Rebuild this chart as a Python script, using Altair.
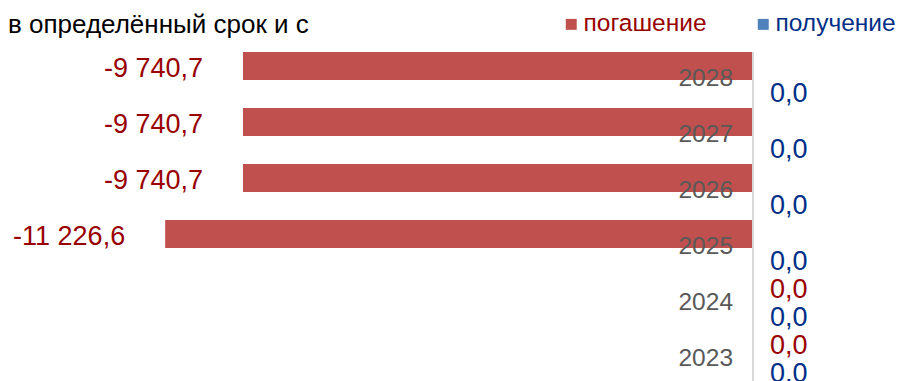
import altair as alt
import pandas as pd

years = ["2028", "2027", "2026", "2025", "2024", "2023"]
series = ["погашение", "получение"]
repay = [-9740.7, -9740.7, -9740.7, -11226.6, 0.0, 0.0]
receive = [0.0, 0.0, 0.0, 0.0, 0.0, 0.0]
title_text = "в определённый срок и с"

FONT = "Liberation Sans"
RED_BAR = "#C0504D"
BLUE_BAR = "#4F81BD"
RED_TXT = "#990000"
BLUE_TXT = "#002F87"


def fmt(v):
    s = f"{v:,.1f}"
    return s.replace(",", " ").replace(".", ",")


rows = []
for y, a, b in zip(years, repay, receive):
    rows.append({"year": y, "series": series[0], "value": a, "label": fmt(a)})
    rows.append({"year": y, "series": series[1], "value": b, "label": fmt(b)})
df = pd.DataFrame(rows)

W, H = 891, 373
xscale = alt.Scale(domain=[-14228, 2788], nice=False, zero=False)
yenc = alt.Y("year:N", sort=years, axis=None,
             scale=alt.Scale(range=[44, 380], paddingInner=0, paddingOuter=0))
yoff = alt.YOffset("series:N", sort=series,
                   scale=alt.Scale(paddingInner=0, paddingOuter=0))

base = alt.Chart(df)

bars = base.mark_bar().encode(
    x=alt.X("value:Q", scale=xscale, axis=None),
    y=yenc,
    yOffset=yoff,
    color=alt.Color(
        "series:N",
        scale=alt.Scale(domain=series, range=[RED_BAR, BLUE_BAR]),
        legend=alt.Legend(
            orient="none", legendX=551, legendY=4, direction="horizontal",
            title=None, symbolType="square", symbolSize=120,
            symbolStrokeWidth=0, labelFontSize=24.5, labelFont=FONT,
            labelOffset=0, columnPadding=44, labelLimit=300,
            labelColor={"expr": "datum.label === 'погашение' ? '%s' : '%s'" % (RED_TXT, BLUE_TXT)},
        ),
    ),
)

axis_rule = base.mark_rule(color="#D9D9D9", strokeWidth=2).encode(
    x=alt.datum(0), y=alt.value(44), y2=alt.value(H)
)

year_labels = base.transform_filter(alt.datum.series == series[0]).mark_text(
    align="right", baseline="middle", dx=-20, dy=-1, fontSize=24.5, font=FONT,
    color="#595959"
).encode(x=alt.datum(0), y=yenc, text="year:N")

txt_color = alt.condition(alt.datum.series == series[0],
                          alt.value(RED_TXT), alt.value(BLUE_TXT))

neg_labels = base.transform_filter(alt.datum.value < 0).mark_text(
    align="right", baseline="middle", dx=-40, dy=3, fontSize=27, font=FONT
).encode(x="value:Q", y=yenc, yOffset=yoff, text="label:N", color=txt_color)

zero_labels = base.transform_filter(alt.datum.value >= 0).mark_text(
    align="left", baseline="middle", dx=17, dy=0, fontSize=27, font=FONT
).encode(x="value:Q", y=yenc, yOffset=yoff, text="label:N", color=txt_color)

chart = alt.layer(bars, axis_rule, year_labels, neg_labels, zero_labels).properties(
    width=W, height=H,
    autosize=alt.AutoSizeParams(type="none"),
    padding=0,
    title=alt.TitleParams(title_text, anchor="start", frame="group",
                          baseline="alphabetic", offset=-24, dy=27, fontSize=26,
                          font=FONT, fontWeight="normal", color="#000000"),
).configure_view(stroke=None)

chart.save("out.html", embed_options={"renderer": "svg", "actions": False})
